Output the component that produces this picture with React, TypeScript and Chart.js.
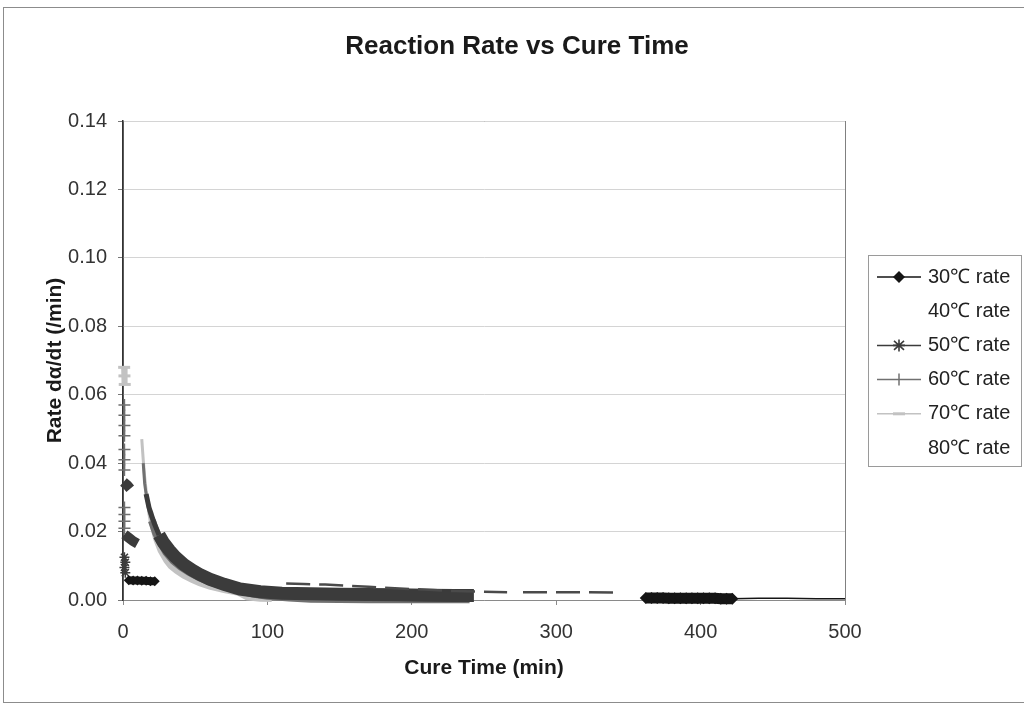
import React, { useEffect, useRef } from 'react';
import { Chart, registerables } from 'chart.js';

Chart.register(...registerables);

const chartTitle = 'Reaction Rate vs Cure Time';
const xTitle = 'Cure Time (min)';
const yTitle = 'Rate dα/dt (/min)';
const xTicks = [0, 100, 200, 300, 400, 500];
const yTicks = [0, 0.02, 0.04, 0.06, 0.08, 0.1, 0.12, 0.14];
const seriesLabels = ['30℃ rate', '40℃ rate', '50℃ rate', '60℃ rate', '70℃ rate', '80℃ rate'];

// 30 ℃
const time30Start = [4, 7, 10, 13, 16, 19, 22];
const rate30Start = [0.0058, 0.0057, 0.0057, 0.0056, 0.0056, 0.0055, 0.0055];
const time30Band = [362, 366, 370, 374, 378, 382, 386, 390, 394, 398, 402, 406, 410, 414, 418, 422];
const rate30Band = [0.0006, 0.0006, 0.0006, 0.0006, 0.0005, 0.0005, 0.0005, 0.0005, 0.0005, 0.0005, 0.0005, 0.0005, 0.0005, 0.0004, 0.0004, 0.0004];
const time30Tail = [422, 440, 460, 480, 500];
const rate30Tail = [0.0004, 0.0005, 0.0005, 0.0004, 0.0004];

// 40 ℃
const time40 = [113, 125, 140, 155, 170, 185, 200, 215, 230, 250, 266, 271, 277, 295, 320, 341];
const rate40 = [0.0048, 0.0047, 0.0045, 0.0042, 0.0039, 0.0035, 0.0032, 0.0029, 0.0026, 0.0024, 0.0023, null, 0.0023, 0.0023, 0.0023, 0.0022];

// 50 ℃
const time50Blobs = [0.3, 3, 5, 8, 1, 4, 7, 10];
const rate50Blobs = [0.0345, 0.0335, 0.0325, null, 0.0192, 0.0182, 0.0172, 0.0165];
const time50Stars = [1, 1.6, 1, 1.6];
const rate50Stars = [0.0125, 0.011, 0.0095, 0.008];
const time50Head = [16, 18, 20, 22, 25];
const rate50Head = [0.031, 0.027, 0.0245, 0.022, 0.019];
const time50 = [25, 28, 32, 36, 42, 48, 53, 60, 70, 81, 95, 110, 130, 150, 170, 190, 210, 230, 243];
const rate50 = [0.019, 0.0168, 0.0146, 0.0127, 0.0104, 0.0087, 0.0075, 0.0061, 0.0046, 0.0032, 0.0024, 0.002, 0.0018, 0.0017, 0.0016, 0.0015, 0.0014, 0.0013, 0.0013];

// 60 ℃
const time60Axis = [1, 1, 1, 1, 1.5, 1, 1, 1, 1.5, 1, 1, 1, 1];
const rate60Axis = [0.057, 0.054, 0.051, 0.048, null, 0.044, 0.041, 0.038, null, 0.027, 0.025, 0.023, 0.021];
const time60Head = [14, 15, 16, 18, 20];
const rate60Head = [0.04, 0.034, 0.031, 0.026, 0.0232];
const time60 = [20, 23, 26, 30, 35, 40, 46, 53, 60, 70, 80, 90, 100, 115, 130, 150, 170, 190, 210, 230, 240];
const rate60 = [0.0232, 0.0195, 0.017, 0.014, 0.0115, 0.0098, 0.0082, 0.0066, 0.0054, 0.004, 0.0029, 0.0019, 0.0012, 0.0007, 0.0004, 0.0003, 0.0002, 0.0002, 0.0002, 0.0002, 0.0002];

// 70 ℃
const time70Axis = [0.8, 1, 1.2];
const rate70Axis = [0.068, 0.0655, 0.063];
const time70Head = [13, 14, 15, 16, 17, 18.7];
const rate70Head = [0.047, 0.041, 0.036, 0.032, 0.029, 0.026];
const time70 = [18.7, 20, 23, 26, 30, 33, 37, 42, 48, 53, 60, 70, 80, 86, 95, 103];
const rate70 = [0.026, 0.0228, 0.0178, 0.0145, 0.0115, 0.0099, 0.0085, 0.0071, 0.0058, 0.0049, 0.0039, 0.0029, 0.0021, 0.0008, 0.0004, 0.0003];

// 80 ℃ (not visible in the picture)
const time80: number[] = [];
const rate80: number[] = [];

const FONT = '"Liberation Sans", Arial, Helvetica, sans-serif';

function pts(ts: number[], rs: (number | null)[]) {
  return ts.map((t, i) => ({ x: t, y: rs[i] }));
}

function part(label: string, ts: number[], rs: (number | null)[], color: string, width: number, style: string, radius: number, pbw = 0, dash: number[] = []) {
  return {
    label,
    data: pts(ts, rs),
    showLine: true,
    borderColor: color,
    backgroundColor: color,
    pointBackgroundColor: color,
    pointBorderColor: color,
    borderWidth: width,
    borderDash: dash,
    pointStyle: style,
    pointRadius: radius,
    pointBorderWidth: pbw,
    clip: false,
  };
}

const decorPlugin = {
  id: 'decor',
  beforeDraw(chart: any) {
    const { ctx, width, chartArea: a } = chart;
    ctx.save();
    ctx.fillStyle = '#ffffff';
    ctx.fillRect(0, 0, width, chart.height);
    ctx.strokeStyle = '#8c8c8c';
    ctx.lineWidth = 1;
    ctx.strokeRect(3.5, 7.5, width + 10, 695);
    ctx.strokeStyle = '#808080';
    ctx.strokeRect(a.left + 0.5, a.top + 0.5, a.right - a.left, a.bottom - a.top);
    ctx.fillStyle = '#1a1a1a';
    ctx.font = 'bold 26px ' + FONT;
    ctx.textAlign = 'center';
    ctx.textBaseline = 'middle';
    ctx.fillText(chartTitle, 517, 47);
    ctx.restore();
  },
  afterDraw(chart: any) {
    const ctx = chart.ctx;
    ctx.save();
    ctx.strokeStyle = '#9a9a9a';
    ctx.lineWidth = 1;
    ctx.strokeRect(868.5, 255.5, 153, 211);
    const cols = ['#151515', '', '#3b3b3b', '#707070', '#c2c2c2', ''];
    seriesLabels.forEach((lab, i) => {
      const y = 277 + i * 34.2;
      const c = cols[i];
      if (c) {
        ctx.strokeStyle = c;
        ctx.lineWidth = 1.5;
        ctx.beginPath();
        ctx.moveTo(877, y);
        ctx.lineTo(921, y);
        ctx.stroke();
        if (i === 0) {
          ctx.fillStyle = c;
          ctx.beginPath();
          ctx.moveTo(899, y - 6);
          ctx.lineTo(905, y);
          ctx.lineTo(899, y + 6);
          ctx.lineTo(893, y);
          ctx.closePath();
          ctx.fill();
        } else if (i === 2) {
          ctx.lineWidth = 1.6;
          ctx.beginPath();
          ctx.moveTo(899, y - 6); ctx.lineTo(899, y + 6);
          ctx.moveTo(894, y - 4.5); ctx.lineTo(904, y + 4.5);
          ctx.moveTo(894, y + 4.5); ctx.lineTo(904, y - 4.5);
          ctx.moveTo(893, y); ctx.lineTo(905, y);
          ctx.stroke();
        } else if (i === 3) {
          ctx.beginPath();
          ctx.moveTo(899, y - 6); ctx.lineTo(899, y + 6);
          ctx.stroke();
        } else if (i === 4) {
          ctx.lineWidth = 3;
          ctx.beginPath();
          ctx.moveTo(893, y); ctx.lineTo(905, y);
          ctx.stroke();
        }
      }
      ctx.fillStyle = '#222222';
      ctx.font = '20px ' + FONT;
      ctx.textAlign = 'left';
      ctx.textBaseline = 'middle';
      ctx.fillText(lab, 928, y);
    });
    ctx.restore();
  },
};

export default function App() {
  const ref = useRef<HTMLCanvasElement>(null);

  useEffect(() => {
    if (!ref.current) return;
    const c30 = '#151515';
    const c40 = '#4a4a4a';
    const c50 = '#3b3b3b';
    const c60 = '#707070';
    const c70 = '#c2c2c2';
    const datasets = [
      part(seriesLabels[0], time30Start, rate30Start, c30, 8, 'rectRot', 5),
      part(seriesLabels[0], time30Band, rate30Band, c30, 11, 'rectRot', 6),
      part(seriesLabels[0], time30Tail, rate30Tail, c30, 1.5, 'rectRot', 0),
      part(seriesLabels[1], time40, rate40, c40, 2.5, 'circle', 0, 0, [24, 9]),
      part(seriesLabels[2], time50Blobs, rate50Blobs, c50, 10, 'rect', 0),
      part(seriesLabels[2], time50Stars, rate50Stars, c50, 1.5, 'star', 5, 1.5),
      part(seriesLabels[2], time50Head, rate50Head, c50, 5, 'star', 0),
      part(seriesLabels[2], time50, rate50, c50, 13, 'star', 0),
      part(seriesLabels[3], time60Axis, rate60Axis, c60, 1.5, 'cross', 6, 1.5),
      part(seriesLabels[3], time60Head, rate60Head, c60, 3, 'cross', 0),
      part(seriesLabels[3], time60, rate60, c60, 8, 'cross', 0),
      part(seriesLabels[4], time70Axis, rate70Axis, c70, 6, 'line', 6, 3),
      part(seriesLabels[4], time70Head, rate70Head, c70, 3, 'line', 0),
      part(seriesLabels[4], time70, rate70, c70, 6, 'line', 0),
      part(seriesLabels[5], time80, rate80, '#ffffff', 1, 'circle', 0),
    ];
    const chart = new Chart(ref.current, {
      type: 'scatter',
      data: { datasets },
      options: {
        responsive: false,
        animation: false,
        layout: { padding: { top: 121, right: 179, left: 0, bottom: 0 } },
        plugins: {
          legend: { display: false },
          title: { display: false },
          tooltip: { enabled: false },
        },
        scales: {
          x: {
            type: 'linear',
            min: 0,
            max: 500,
            afterFit: (s: any) => {
              s.height = 104;
            },
            afterBuildTicks: (s: any) => {
              s.ticks = xTicks.map((v) => ({ value: v }));
            },
            ticks: {
              color: '#333333',
              font: { family: FONT, size: 20 },
              padding: 15,
              maxRotation: 0,
            },
            grid: {
              drawOnChartArea: false,
              drawTicks: true,
              tickLength: 5,
              tickColor: '#8a8a8a',
            },
            border: { color: '#8a8a8a', width: 1 },
            title: {
              display: true,
              text: xTitle,
              color: '#1a1a1a',
              font: { family: FONT, size: 21, weight: 'bold' },
              padding: { top: 0, bottom: 23 },
            },
          },
          y: {
            type: 'linear',
            min: 0,
            max: 0.14,
            afterFit: (s: any) => {
              s.width = 123;
            },
            afterBuildTicks: (s: any) => {
              s.ticks = yTicks.map((v) => ({ value: v }));
            },
            ticks: {
              color: '#333333',
              font: { family: FONT, size: 20 },
              padding: 11,
              callback: (v: any) => Number(v).toFixed(2),
            },
            grid: {
              color: '#d4d4d4',
              tickLength: 5,
              tickColor: '#777777',
            },
            border: { color: '#333333', width: 1.5 },
            title: {
              display: true,
              text: yTitle,
              color: '#1a1a1a',
              font: { family: FONT, size: 21, weight: 'bold' },
              padding: { top: 43, bottom: 0 },
            },
          },
        },
      },
      plugins: [decorPlugin],
    } as any);
    return () => chart.destroy();
  }, []);

  return (
    <div style={{ position: 'absolute', left: 0, top: 0, width: 1024, height: 704 }}>
      <canvas ref={ref} width={1024} height={704} style={{ display: 'block' }} />
    </div>
  );
}
